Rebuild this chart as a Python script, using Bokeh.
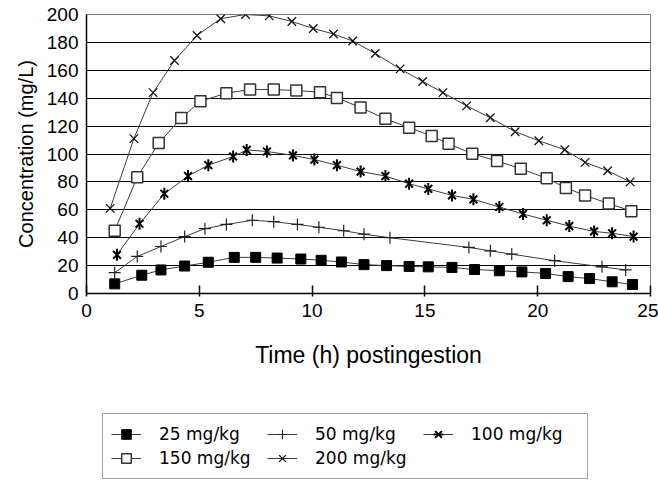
import math
from bokeh.plotting import figure
from bokeh.layouts import column
from bokeh.models import Legend, LegendItem, FixedTicker, Range1d
from bokeh.embed import file_html
from bokeh.resources import INLINE

# ---- data (time in hours postingestion, concentration in mg/L) ----
t25 = [1.25, 2.45, 3.3, 4.35, 5.4, 6.55, 7.5, 8.45, 9.5, 10.4, 11.3, 12.3,
       13.3, 14.3, 15.15, 16.2, 17.2, 18.3, 19.3, 20.35, 21.35, 22.3, 23.3, 24.2]
c25 = [6.9, 13.1, 16.9, 19.7, 22.4, 25.9, 25.9, 25.4, 24.7, 23.8, 22.6, 20.7,
       20.0, 19.4, 19.1, 18.7, 17.2, 16.3, 15.5, 14.4, 12.1, 10.7, 8.4, 6.5]

t50 = [1.25, 2.25, 3.3, 4.35, 5.25, 6.2, 7.35, 8.3, 9.35, 10.3, 11.4, 12.3,
       13.45, 16.95, 17.9, 18.85, 20.75, 22.85, 23.9]
c50 = [14.9, 26.6, 33.7, 40.8, 46.5, 49.5, 52.5, 51.5, 49.5, 47.5, 45.0, 42.5,
       40.0, 33.0, 30.6, 28.2, 23.5, 19.1, 16.9]

t100 = [1.35, 2.35, 3.45, 4.5, 5.4, 6.5, 7.1, 8.0, 9.15, 10.1, 11.1, 12.15,
        13.25, 14.3, 15.15, 16.2, 17.15, 18.3, 19.35, 20.4, 21.4, 22.5, 23.3, 24.25]
c100 = [27.7, 50.0, 71.5, 84.2, 92.0, 98.2, 102.9, 101.8, 99.0, 96.0, 92.0, 87.4,
        84.2, 78.7, 75.0, 70.3, 67.5, 62.0, 57.0, 52.5, 48.3, 44.5, 43.2, 40.8]

t150 = [1.25, 2.25, 3.2, 4.2, 5.05, 6.2, 7.25, 8.3, 9.3, 10.35, 11.1, 12.15,
        13.25, 14.3, 15.3, 16.05, 17.1, 18.2, 19.25, 20.4, 21.25, 22.1, 23.15, 24.15]
c150 = [45.0, 83.4, 107.8, 125.8, 137.8, 143.6, 146.2, 146.2, 145.5, 144.3, 140.2, 133.3,
        125.2, 118.9, 112.9, 107.3, 100.2, 95.0, 89.4, 82.6, 75.7, 70.3, 64.5, 59.0]

t200 = [1.05, 2.1, 2.95, 3.9, 4.9, 5.95, 7.05, 8.1, 9.1, 10.05, 10.95, 11.8,
        12.8, 13.9, 14.9, 15.8, 16.85, 17.9, 19.0, 20.05, 21.2, 22.1, 23.1, 24.1]
c200 = [61, 111, 144, 167, 185, 197, 200, 199, 195, 190, 186, 181,
        172, 161, 152, 144, 134.5, 126, 116, 109.5, 103, 94, 88, 80]

series_labels = ["25 mg/kg", "50 mg/kg", "100 mg/kg", "150 mg/kg", "200 mg/kg"]
x_ticks = [0, 5, 10, 15, 20, 25]
y_ticks = [0, 20, 40, 60, 80, 100, 120, 140, 160, 180, 200]

LINE = "#3c3c3c"


def add_series(fig):
    """Draw the five dose series on fig; return one renderer list per series."""
    out = []
    l = fig.line(t25, c25, line_color=LINE, line_width=1)
    m = fig.scatter(t25, c25, marker="square", size=10, fill_color="black", line_color="black")
    out.append([l, m])

    l = fig.line(t50, c50, line_color=LINE, line_width=1)
    m = fig.scatter(t50, c50, marker="cross", size=12, line_color="#222222", line_width=1.2)
    out.append([l, m])

    l = fig.line(t100, c100, line_color=LINE, line_width=1)
    m1 = fig.scatter(t100, c100, marker="x", size=11, line_color="black", line_width=2)
    m2 = fig.scatter(t100, c100, marker="dash", size=12, angle=math.pi / 2,
                     line_color="black", line_width=2)
    out.append([l, m1, m2])

    l = fig.line(t150, c150, line_color=LINE, line_width=1)
    m = fig.scatter(t150, c150, marker="square", size=11, fill_color="white",
                    line_color="#333333", line_width=1.5)
    out.append([l, m])

    l = fig.line(t200, c200, line_color=LINE, line_width=1)
    m = fig.scatter(t200, c200, marker="x", size=12, line_color="#111111", line_width=1.3)
    out.append([l, m])
    return out


# ---- main chart ----
p = figure(width=658, height=400, output_backend="svg", toolbar_location=None,
           x_range=(0, 25), y_range=(0, 200),
           min_border_left=86, min_border_right=8, min_border_top=14,
           min_border_bottom=107)
p.background_fill_color = "white"
p.border_fill_color = "white"
p.outline_line_color = "#7a7a7a"
p.outline_line_width = 1

p.xgrid.visible = False
p.ygrid.ticker = FixedTicker(ticks=y_ticks)
p.ygrid.grid_line_color = "black"
p.ygrid.grid_line_width = 1

FONT = "Liberation Sans"
for ax in (p.xaxis[0], p.yaxis[0]):
    ax.axis_line_color = "black"
    ax.axis_line_width = 1.5
    ax.major_tick_line_color = "black"
    ax.major_tick_line_width = 1.5
    ax.minor_tick_line_color = None
    ax.major_label_text_font = FONT
    ax.major_label_text_font_size = "19px"
    ax.major_label_text_color = "black"
    ax.axis_label_text_font = FONT
    ax.axis_label_text_font_style = "normal"
    ax.axis_label_text_color = "black"

p.xaxis.ticker = FixedTicker(ticks=x_ticks)
p.xaxis.major_tick_in = 8
p.xaxis.major_tick_out = 3
p.xaxis.major_label_standoff = 7
p.xaxis.axis_label = "Time (h) postingestion"
p.xaxis.axis_label_text_font_size = "23px"
p.xaxis.axis_label_standoff = 22

p.yaxis.ticker = FixedTicker(ticks=y_ticks)
p.yaxis.major_tick_in = 0
p.yaxis.major_tick_out = 0
p.yaxis.major_label_standoff = 8
p.yaxis.axis_label = "Concentration (mg/L)"
p.yaxis.axis_label_text_font_size = "20px"
p.yaxis.axis_label_standoff = 7

add_series(p)

# ---- legend strip (its sample renderers lie outside this strip's ranges) ----
lg = figure(width=658, height=95, output_backend="svg", toolbar_location=None,
            x_range=Range1d(100, 101), y_range=Range1d(1000, 1001),
            x_axis_location=None, y_axis_location=None,
            min_border=0, min_border_left=0, min_border_right=0,
            min_border_top=0, min_border_bottom=0)
lg.grid.visible = False
lg.outline_line_color = None
lg.background_fill_color = "white"
lg.border_fill_color = "white"

groups = add_series(lg)
items = [LegendItem(label=lab, renderers=r) for lab, r in zip(series_labels, groups)]

legend = Legend(items=items, location=(16, 16), orientation="horizontal", ncols=3,
                glyph_width=30, glyph_height=24, label_standoff=18, label_width=108,
                spacing=0, padding=8, margin=0,
                border_line_color="#444444", border_line_width=1,
                background_fill_color="white", background_fill_alpha=1,
                label_text_font="DejaVu Sans", label_text_font_size="17px",
                label_text_color="black")
lg.add_layout(legend, "center")

layout = column(p, lg, spacing=0)
open("out.html", "w").write(file_html(layout, INLINE))
